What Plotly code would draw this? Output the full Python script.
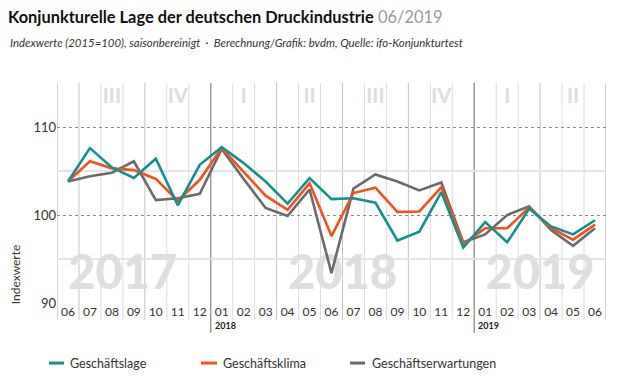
import plotly.graph_objects as go

months = ["06", "07", "08", "09", "10", "11", "12",
          "01", "02", "03", "04", "05", "06", "07", "08", "09", "10", "11", "12",
          "01", "02", "03", "04", "05", "06"]
lage = [103.8, 107.6, 105.4, 104.2, 106.4, 101.1, 105.7,
        107.7, 105.9, 103.8, 101.3, 104.2, 101.8, 101.9, 101.4, 97.1, 98.1, 102.6, 96.3,
        99.2, 96.9, 100.7, 98.7, 97.8, 99.4]
klima = [103.8, 106.1, 105.3, 105.1, 104.1, 101.6, 104.0,
         107.6, 104.9, 102.2, 100.6, 103.6, 97.6, 102.5, 103.1, 100.35, 100.4, 103.15, 96.7,
         98.5, 98.5, 100.85, 98.5, 97.2, 98.9]
erwart = [103.8, 104.4, 104.8, 106.1, 101.7, 101.9, 102.4,
          107.5, 104.1, 100.8, 99.9, 102.9, 93.4, 103.0, 104.6, 103.8, 102.8, 103.7, 96.9,
          97.8, 100.0, 101.0, 98.3, 96.5, 98.5]
series_names = ["Geschäftslage", "Geschäftsklima", "Geschäftserwartungen"]
series_colors = ["#12908e", "#f5501e", "#6b6b6b"]
quarter_labels = ["III", "IV", "I", "II", "III", "IV", "I", "II"]
quarter_pos = [2, 5, 8, 11, 14, 17, 20, 23]
year_labels = ["2017", "2018", "2019"]
year_pos = [2.5, 12.5, 21.5]
year_start_labels = ["2018", "2019"]
year_start_pos = [6.5, 18.5]

x = list(range(len(months)))
FONT = "Lato"

fig = go.Figure()

# background decorations as text traces (below lines)
fig.add_trace(go.Scatter(
    x=year_pos, y=[92.95] * len(year_pos), text=year_labels, mode="text",
    textfont=dict(family=FONT, size=47, color="#dedede", weight=900),
    hoverinfo="skip", showlegend=False))
fig.add_trace(go.Scatter(
    x=quarter_pos, y=[113.3] * len(quarter_pos), text=quarter_labels, mode="text",
    textfont=dict(family=FONT, size=20, color="#dedede", weight=900),
    hoverinfo="skip", showlegend=False))

data_series = [lage, klima, erwart]
for name, vals, col in reversed(list(zip(series_names, data_series, series_colors))):
    fig.add_trace(go.Scatter(x=x, y=vals, mode="lines", name=name,
                             line=dict(color=col, width=2.6), showlegend=False))

shapes = []
n = len(months)
for k in range(n + 1):
    xb = k - 0.5
    if k in (7, 19):
        shapes.append(dict(type="line", xref="x", yref="paper", x0=xb, x1=xb, y0=-0.135, y1=1,
                           line=dict(color="#9a9a9a", width=1.5), layer="below"))
    elif k in (0, n):
        shapes.append(dict(type="line", xref="x", yref="paper", x0=xb, x1=xb, y0=-0.077, y1=1,
                           line=dict(color="#b5b5b5", width=1.2), layer="below"))
    elif k % 3 == 1:
        shapes.append(dict(type="line", xref="x", yref="paper", x0=xb, x1=xb, y0=-0.077, y1=1,
                           line=dict(color="#c4c4c4", width=1), layer="below"))
    else:
        shapes.append(dict(type="line", xref="x", yref="paper", x0=xb, x1=xb, y0=-0.077, y1=1,
                           line=dict(color="#dcdcdc", width=1), layer="below"))

annotations = []
for lbl, pos in zip(year_start_labels, year_start_pos):
    annotations.append(dict(text="<b>" + lbl + "</b>", x=pos, y=-0.1, xref="x", yref="paper",
                            xanchor="left", yanchor="middle", xshift=2, showarrow=False,
                            font=dict(family=FONT, size=9, color="#222")))

# manual legend
leg_line_x = [(-0.0146, 0.0128), (0.2623, 0.2914), (0.5337, 0.561)]
leg_text_x = [0.020, 0.2987, 0.570]
for name, col, (a, b), tx in zip(series_names, series_colors, leg_line_x, leg_text_x):
    shapes.append(dict(type="line", xref="paper", yref="paper", x0=a, x1=b, y0=-0.273, y1=-0.273,
                       line=dict(color=col, width=3)))
    annotations.append(dict(text=name, x=tx, y=-0.273, xref="paper", yref="paper",
                            xanchor="left", yanchor="middle", showarrow=False,
                            font=dict(family=FONT, size=12.5, color="#333")))

annotations.append(dict(
    text="<i>Indexwerte (2015=100), saisonbereinigt  ·  Berechnung/Grafik: bvdm, Quelle: ifo-Konjunkturtest</i>",
    x=-0.0893, y=1.186, xref="paper", yref="paper", xanchor="left", yanchor="middle",
    showarrow=False, font=dict(family=FONT, size=11.4, color="#333")))
annotations.append(dict(text="Indexwerte", x=-0.075, y=0.13, xref="paper", yref="paper",
                        textangle=-90, xanchor="center", yanchor="middle", showarrow=False,
                        font=dict(family=FONT, size=12, color="#333")))

# page body has an 8px margin: figure is 612x372 so the window shows it exactly
W, H = 612, 372
fig.update_layout(
    width=W, height=H,
    margin=dict(l=49, r=14, t=75, b=77),
    paper_bgcolor="white", plot_bgcolor="white",
    title=dict(text="<b>Konjunkturelle Lage der deutschen Druckindustrie</b> <span style='color:#9a9a9a'>06/2019</span>",
               x=0, xanchor="left", xref="container", y=1 - 9.5 / H, yref="container",
               yanchor="middle", pad=dict(l=0, r=0, t=0, b=0),
               font=dict(family=FONT, size=16.4, color="#111")),
    xaxis=dict(range=[-0.5, n - 0.5], tickmode="array", tickvals=x, ticktext=months,
               showgrid=False, zeroline=False, ticks="", showline=False,
               tickfont=dict(family=FONT, size=12, color="#333"), fixedrange=True),
    yaxis=dict(range=[90, 115], tickmode="array", tickvals=[90, 100, 110],
               showgrid=True, gridcolor="#8a8a8a", griddash="dot", gridwidth=1,
               minor=dict(tickmode="array", tickvals=[95, 105, 115], showgrid=True,
                          gridcolor="#e4e4e4", gridwidth=1.5, griddash="solid", ticks=""),
               zeroline=False, ticks="", showline=False,
               tickfont=dict(family=FONT, size=13, color="#333"), fixedrange=True),
    shapes=shapes, annotations=annotations, showlegend=False,
)

fig.write_html("out.html")
